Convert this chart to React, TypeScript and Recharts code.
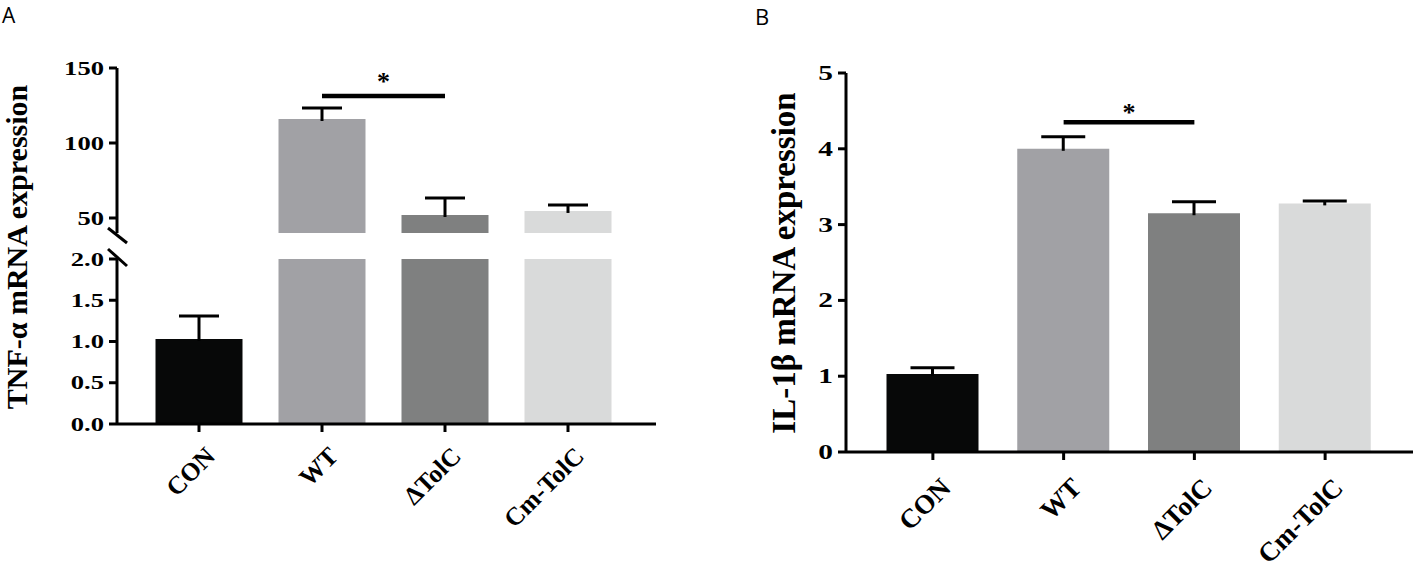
import React from 'react';
import { BarChart, Bar, XAxis, YAxis, ReferenceLine, Cell } from 'recharts';

const groups = ['CON', 'WT', 'ΔTolC', 'Cm-TolC'];
const barColors = ['#070808', '#a1a1a5', '#7f8080', '#d9dada'];

// TNF-α (panel A, broken axis)
const tnfMean = [1.03, 116, 52, 54.7];
const tnfErr = [0.28, 7.3, 11.3, 4];
const tnfUpperTicks = [50, 100, 150];
const tnfLowerTicks = [0, 0.5, 1.0, 1.5, 2.0];
const tnfSigY = 131.3;

// IL-1β (panel B)
const ilMean = [1.03, 4.0, 3.15, 3.28];
const ilErr = [0.08, 0.16, 0.15, 0.03];
const ilTicks = [0, 1, 2, 3, 4, 5];
const ilSigY = 4.35;

const tnfData = groups.map((name, i) => ({ name, mean: tnfMean[i], err: tnfErr[i] }));
const ilData = groups.map((name, i) => ({ name, mean: ilMean[i], err: ilErr[i] }));

const SERIF = '"Liberation Serif", "Times New Roman", serif';
const axisStyle = { stroke: '#000', strokeWidth: 3 };

// error bar drawn on top of the stacked "err" segment; segments truncated by the domain have ~0 height
const makeErrShape = (capHalf: number) => (props: any) => {
  const { x, y, width, height } = props;
  if (height == null || isNaN(y) || height < 1) return null;
  const cx = x + width / 2;
  return (
    <g>
      <line x1={cx} x2={cx} y1={y + height + 2} y2={y} stroke="#000" strokeWidth={3} />
      <line x1={cx - capHalf} x2={cx + capHalf} y1={y} y2={y} stroke="#000" strokeWidth={3} />
    </g>
  );
};

const makeYTick = (fontSize: number, digits: number) => (props: any) => {
  const { x, y, payload } = props;
  return (
    <text
      transform={`translate(${x - 3},${y}) scale(1.4,1)`}
      textAnchor="end"
      dominantBaseline="central"
      fontFamily={SERIF}
      fontWeight="bold"
      fontSize={fontSize}
      fill="#000"
    >
      {Number(payload.value).toFixed(digits)}
    </text>
  );
};

const makeXTick = (dx: number, dy: number, fontSize: number) => (props: any) => {
  const { x, y, payload } = props;
  return (
    <text
      transform={`translate(${x + dx},${y + dy}) rotate(-45)`}
      textAnchor="end"
      dy="0.7em"
      fontFamily={SERIF}
      fontWeight="bold"
      fontSize={fontSize}
      fill="#000"
    >
      {payload.value}
    </text>
  );
};

const starLabel = (offset: number) => ({
  value: '*',
  position: 'top' as const,
  offset,
  fontFamily: SERIF,
  fontWeight: 'bold',
  fontSize: 26,
  fill: '#000',
});

const PanelATop = () => (
  <BarChart width={680} height={240} data={tnfData} margin={{ top: 68, right: 24, bottom: 7, left: 0 }}>
    <XAxis dataKey="name" hide padding={{ left: 20.5, right: 26.5 }} />
    <YAxis
      type="number"
      domain={[40, 150]}
      ticks={tnfUpperTicks}
      allowDataOverflow
      width={117}
      tickSize={8}
      axisLine={axisStyle}
      tickLine={axisStyle}
      tick={makeYTick(19, 0)}
      interval={0}
    />
    <Bar dataKey="mean" stackId="a" barSize={87} isAnimationActive={false}>
      {tnfData.map((d, i) => (
        <Cell key={d.name} fill={barColors[i]} />
      ))}
    </Bar>
    <Bar dataKey="err" stackId="a" barSize={87} isAnimationActive={false} shape={makeErrShape(20)} />
    <ReferenceLine
      segment={[{ x: 'WT', y: tnfSigY }, { x: 'ΔTolC', y: tnfSigY }]}
      stroke="#000"
      strokeWidth={4.5}
      label={starLabel(6)}
    />
  </BarChart>
);

const PanelABottom = () => (
  <BarChart width={680} height={329} data={tnfData} margin={{ top: 19, right: 24, bottom: 65, left: 0 }}>
    <XAxis
      dataKey="name"
      height={80}
      padding={{ left: 20.5, right: 26.5 }}
      tickSize={8}
      axisLine={axisStyle}
      tickLine={axisStyle}
      tick={makeXTick(5, 11, 25.5)}
      interval={0}
    />
    <YAxis
      type="number"
      domain={[0, 2]}
      ticks={tnfLowerTicks}
      allowDataOverflow
      width={117}
      tickSize={8}
      axisLine={axisStyle}
      tickLine={axisStyle}
      tick={makeYTick(19, 1)}
      interval={0}
    />
    <Bar dataKey="mean" stackId="a" barSize={87} isAnimationActive={false}>
      {tnfData.map((d, i) => (
        <Cell key={d.name} fill={barColors[i]} />
      ))}
    </Bar>
    <Bar dataKey="err" stackId="a" barSize={87} isAnimationActive={false} shape={makeErrShape(20)} />
  </BarChart>
);

const PanelB = () => (
  <BarChart width={677} height={569} data={ilData} margin={{ top: 73, right: 4, bottom: 37, left: 0 }}>
    <XAxis
      dataKey="name"
      height={80}
      padding={{ left: 21.5, right: 22.5 }}
      tickSize={8}
      axisLine={axisStyle}
      tickLine={axisStyle}
      tick={makeXTick(6, 14, 27)}
      interval={0}
    />
    <YAxis
      type="number"
      domain={[0, 5]}
      ticks={ilTicks}
      width={106}
      tickSize={8}
      axisLine={axisStyle}
      tickLine={axisStyle}
      tick={makeYTick(21, 0)}
      interval={0}
    />
    <Bar dataKey="mean" stackId="a" barSize={92} isAnimationActive={false}>
      {ilData.map((d, i) => (
        <Cell key={d.name} fill={barColors[i]} />
      ))}
    </Bar>
    <Bar dataKey="err" stackId="a" barSize={92} isAnimationActive={false} shape={makeErrShape(22)} />
    <ReferenceLine
      segment={[{ x: 'WT', y: ilSigY }, { x: 'ΔTolC', y: ilSigY }]}
      stroke="#000"
      strokeWidth={4.5}
      label={starLabel(1)}
    />
  </BarChart>
);

export default function App() {
  return (
    <div style={{ position: 'absolute', left: 0, top: 0, width: 1417, height: 569, background: '#fff', overflow: 'hidden' }}>
      <div style={{ position: 'absolute', left: 0, top: 0 }}>
        <PanelATop />
      </div>
      <div style={{ position: 'absolute', left: 0, top: 240 }}>
        <PanelABottom />
      </div>
      <div style={{ position: 'absolute', left: 740, top: 0 }}>
        <PanelB />
      </div>
      <svg width={1417} height={569} style={{ position: 'absolute', left: 0, top: 0, pointerEvents: 'none' }}>
        <text x={2} y={23} fontFamily='"Open Sans", sans-serif' fontSize={21} fill="#000">A</text>
        <text x={755} y={25} fontFamily='"Open Sans", sans-serif' fontSize={22} fill="#000">B</text>
        <text
          transform="translate(27,247) rotate(-90)"
          textAnchor="middle"
          fontFamily={SERIF}
          fontWeight="bold"
          fontSize={30}
          fill="#000"
        >
          TNF-α mRNA expression
        </text>
        <text
          transform="translate(795,263) rotate(-90)"
          textAnchor="middle"
          fontFamily={SERIF}
          fontWeight="bold"
          fontSize={33}
          fill="#000"
        >
          IL-1β mRNA expression
        </text>
        <line x1={108} y1={228} x2={127} y2={243} stroke="#000" strokeWidth={3} />
        <line x1={108} y1={249} x2={127} y2={266} stroke="#000" strokeWidth={3} />
      </svg>
    </div>
  );
}
